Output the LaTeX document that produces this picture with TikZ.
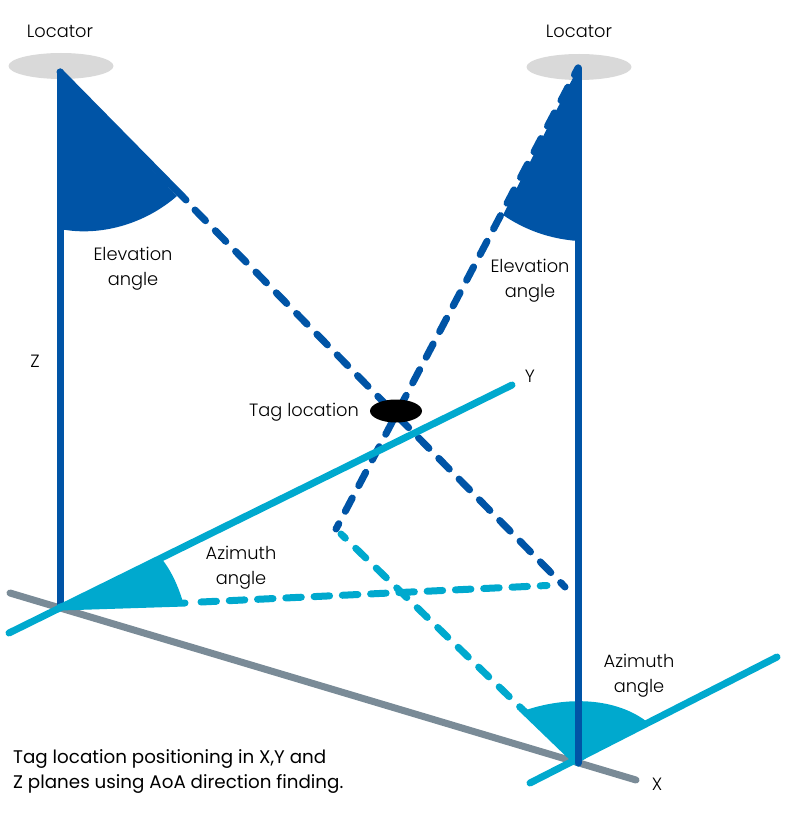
\documentclass[tikz,border=0pt]{standalone}
\usepackage{fontspec}
\setmainfont{Poppins}
\newfontfamily\lightfont{Poppins Light}
\usetikzlibrary{shapes.geometric}
\definecolor{darkblue}{HTML}{0054A6}
\definecolor{lightblue}{HTML}{00A9CE}
\definecolor{axisgrey}{HTML}{7A8B97}
\definecolor{discgrey}{HTML}{D9D9D9}
\tikzset{
    label text/.style={inner sep=0pt, align=center, font=\lightfont\fontsize{17.8}{25}\selectfont, text=black},
    caption text/.style={inner sep=0pt, align=left, font=\fontsize{18.3}{25}\selectfont, text=black},
    elevation line/.style={draw=darkblue, line width=7pt, line cap=round},
    azimuth line/.style={draw=lightblue, line width=7pt, line cap=round},
    elevation dash/.style={elevation line, dash pattern=on 15pt off 14pt},
}
\begin{document}
\begin{tikzpicture}[x=1pt, y=-1pt]
    \useasboundingbox (0,0) rectangle (800,818);

    % Locators
    \node[ellipse, fill=discgrey, minimum width=105pt, minimum height=26pt, inner sep=0pt] (locatorleft) at (61,66) {};
    \node[ellipse, fill=discgrey, minimum width=105pt, minimum height=26pt, inner sep=0pt] (locatorright) at (579,67) {};

    % Anchor points
    \coordinate (topleft) at (60,72);
    \coordinate (topright) at (578,68);
    \coordinate (baseleft) at (60,607);
    \coordinate (baseright) at (578,763);
    \coordinate (elevationend) at (186,200);
    \coordinate (dashstart) at (195,210);
    \coordinate (floor) at (565,587);
    \coordinate (foot) at (336,529);
    \coordinate (footstart) at (341,534);
    \coordinate (azimuthend) at (522,709);
    \coordinate (azimuthstub) at (185,603);
    \coordinate (floorstart) at (201,602);
    \coordinate (floorend) at (547,585.5);
    \coordinate (xstart) at (10,593);
    \coordinate (xend) at (636,780);
    \coordinate (ystart) at (9,633);
    \coordinate (yend) at (512,385);
    \coordinate (ytwostart) at (530,783);
    \coordinate (ytwoend) at (777,657);

    % Ground axis
    \draw[draw=axisgrey, line width=7pt, line cap=round] (xstart) -- (xend);

    % Elevation wedges
    \fill[darkblue] (topleft) -- (177,196) .. controls (145,224) and (100,237) .. (60,229) -- cycle;
    \fill[darkblue] (topright) -- (503,215) .. controls (525,230) and (550,239) .. (578,241) -- cycle;

    % Dashed lines
    \draw[elevation line] (topleft) -- (elevationend);
    \draw[elevation dash] (dashstart) -- (floor);
    \draw[elevation dash, dash phase=9pt] (foot) -- (topright);
    \draw[azimuth line, dash pattern=on 15.5pt off 12.8pt] (floorstart) -- (floorend);
    \draw[azimuth line, dash pattern=on 14pt off 14.5pt, dash phase=8pt] (footstart) -- (azimuthend);

    % Left vertical
    \draw[elevation line] (topleft) -- (baseleft);

    % Azimuth wedges
    \fill[lightblue] (baseleft) -- (161,558) .. controls (171,570) and (178,586) .. (182,599) -- (182,606) -- cycle;
    \draw[azimuth line] (baseleft) -- (azimuthstub);
    \fill[lightblue] (baseright) -- (526,710) .. controls (568,696) and (615,698) .. (646,721) -- cycle;
    \draw[azimuth line] (azimuthend) -- (baseright);

    % Y axes
    \draw[azimuth line] (ystart) -- (yend);
    \draw[azimuth line] (ytwostart) -- (ytwoend);
    \draw[elevation line] (topright) -- (baseright);

    % Tag
    \node[ellipse, fill=black, minimum width=52pt, minimum height=23pt, inner sep=0pt] (tag) at (396,411) {};

    % Labels
    \node[label text] (locatorlabelleft) at (60,31) {Locator};
    \node[label text] (locatorlabelright) at (579,31) {Locator};
    \node[label text] (elevationleft) at (133,269) {Elevation\\angle};
    \node[label text] (elevationright) at (530,281) {Elevation\\angle};
    \node[label text] (zlabel) at (35,361) {Z};
    \node[label text] (ylabel) at (530,376) {Y};
    \node[label text] (xlabel) at (657,784) {X};
    \node[label text] (taglabel) at (304,412) {Tag location};
    \node[label text] (azimuthleft) at (241,568) {Azimuth\\angle};
    \node[label text] (azimuthright) at (639,676) {Azimuth\\angle};
    \node[caption text, anchor=west] (caption) at (13,771) {Tag location positioning in X,Y and\\Z planes using AoA direction finding.};
\end{tikzpicture}
\end{document}
